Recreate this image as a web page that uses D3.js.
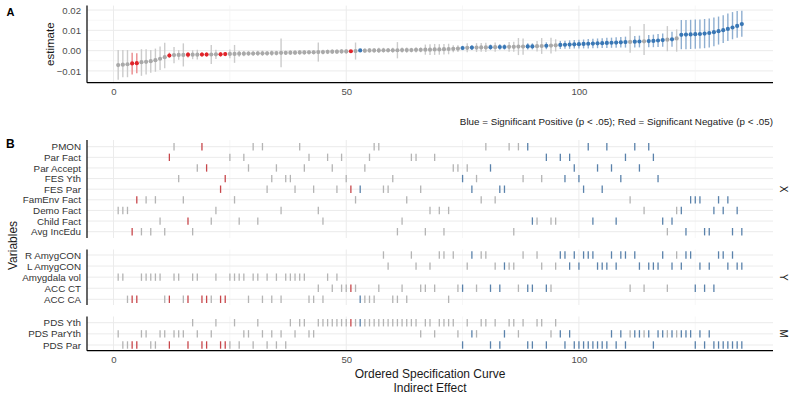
<!DOCTYPE html>
<html>
<head>
<meta charset="utf-8">
<title>Specification Curve</title>
<style>
  body { margin: 0; background: #fff; }
  text { font-family: "Liberation Sans", Arial, sans-serif; }
  .grid { stroke: #ebebeb; stroke-width: 1; }
  .grid-minor { stroke: #f2f2f2; stroke-width: 0.7; }
  .axis-line { stroke: #000; stroke-width: 1.2; }
</style>
</head>
<body>
<div id="chart"></div>
<script src="https://d3js.org/d3.v7.min.js"></script>
<script>
// ---- data: one entry per specification, ordered 1..135 ----
const estimate = [
  -0.0071, -0.0069, -0.0067, -0.0063, -0.0062, -0.0057, -0.0055, -0.0052, -0.0047, -0.0040,
  -0.0032, -0.0024, -0.0022, -0.0021, -0.0021, -0.0020, -0.0020, -0.0020, -0.0019, -0.0019,
  -0.0019, -0.0018, -0.0018, -0.0017, -0.0016, -0.0016, -0.0015, -0.0015, -0.0014, -0.0014,
  -0.0013, -0.0013, -0.0013, -0.0012, -0.0012, -0.0011, -0.0011, -0.0010, -0.0010, -0.0009,
  -0.0009, -0.0008, -0.0008, -0.0007, -0.0007, -0.0006, -0.0005, -0.0005, -0.0004, -0.0004,
  -0.0003, -0.0002, 0.0001, 0.0000, 0.0001, 0.0001, 0.0001, 0.0002, 0.0002, 0.0002,
  0.0002, 0.0003, 0.0003, 0.0003, 0.0004, 0.0004, 0.0005, 0.0005, 0.0006, 0.0006,
  0.0007, 0.0008, 0.0009, 0.0010, 0.0013, 0.0014, 0.0015, 0.0015, 0.0016, 0.0016,
  0.0017, 0.0017, 0.0018, 0.0018, 0.0019, 0.0019, 0.0020, 0.0020, 0.0021, 0.0021,
  0.0022, 0.0023, 0.0024, 0.0025, 0.0026, 0.0028, 0.0029, 0.0030, 0.0031, 0.0032,
  0.0033, 0.0034, 0.0035, 0.0036, 0.0037, 0.0038, 0.0039, 0.0040, 0.0041, 0.0042,
  0.0043, 0.0044, 0.0045, 0.0046, 0.0047, 0.0048, 0.0050, 0.0052, 0.0054, 0.0056,
  0.0060, 0.0078, 0.0079, 0.0080, 0.0081, 0.0082, 0.0084, 0.0087, 0.0091, 0.0096,
  0.0101, 0.0107, 0.0114, 0.0122, 0.0131
];
const ciLow = [
  -0.0144, -0.0131, -0.0131, -0.0118, -0.0112, -0.0124, -0.0118, -0.0109, -0.0104, -0.0095,
  -0.0087, -0.0035, -0.0062, -0.0045, -0.0078, -0.0034, -0.0042, -0.0044, -0.0030, -0.0030,
  -0.0066, -0.0041, -0.0029, -0.0027, -0.0038, -0.0060, -0.0030, -0.0028, -0.0026, -0.0027,
  -0.0025, -0.0026, -0.0024, -0.0025, -0.0023, -0.0082, -0.0022, -0.0021, -0.0022, -0.0020,
  -0.0020, -0.0019, -0.0019, -0.0054, -0.0018, -0.0017, -0.0016, -0.0016, -0.0015, -0.0015,
  -0.0005, -0.0044, 0.0000, -0.0011, -0.0010, -0.0010, -0.0012, -0.0010, -0.0009, -0.0010,
  -0.0038, -0.0009, -0.0010, -0.0008, -0.0009, -0.0008, -0.0020, -0.0022, -0.0021, -0.0020,
  -0.0019, -0.0018, -0.0008, -0.0007, 0.0002, -0.0008, 0.0003, -0.0007, -0.0006, -0.0007,
  0.0004, -0.0006, 0.0004, 0.0005, -0.0005, -0.0006, -0.0022, -0.0020, 0.0006, 0.0006,
  -0.0004, -0.0016, 0.0007, -0.0014, -0.0004, 0.0008, 0.0009, 0.0009, 0.0010, 0.0010,
  0.0011, 0.0011, 0.0012, 0.0012, 0.0013, 0.0013, 0.0014, 0.0014, 0.0015, 0.0015,
  -0.0010, 0.0016, 0.0016, -0.0021, 0.0017, 0.0017, 0.0018, 0.0019, -0.0003, 0.0019,
  -0.0005, 0.0007, 0.0007, 0.0008, 0.0009, 0.0010, 0.0012, 0.0016, 0.0022, 0.0030,
  0.0038, 0.0048, 0.0056, 0.0064, 0.0069
];
const ciHigh = [
  0.0003, 0.0003, 0.0003, -0.0010, -0.0013, 0.0007, 0.0007, 0.0003, 0.0010, 0.0020,
  0.0039, -0.0010, 0.0018, 0.0003, 0.0036, -0.0008, 0.0002, 0.0004, -0.0008, -0.0008,
  0.0028, 0.0005, -0.0007, -0.0007, 0.0006, 0.0028, 0.0000, -0.0002, -0.0002, -0.0001,
  -0.0001, 0.0000, -0.0002, 0.0001, -0.0001, 0.0060, 0.0000, 0.0001, 0.0002, 0.0002,
  0.0002, 0.0003, 0.0003, 0.0040, 0.0004, 0.0005, 0.0006, 0.0006, 0.0007, 0.0007,
  -0.0001, 0.0040, 0.0002, 0.0011, 0.0012, 0.0012, 0.0014, 0.0014, 0.0013, 0.0014,
  0.0042, 0.0015, 0.0016, 0.0014, 0.0017, 0.0016, 0.0030, 0.0032, 0.0033, 0.0032,
  0.0033, 0.0034, 0.0026, 0.0027, 0.0024, 0.0036, 0.0027, 0.0037, 0.0038, 0.0039,
  0.0030, 0.0040, 0.0032, 0.0031, 0.0043, 0.0044, 0.0062, 0.0060, 0.0036, 0.0036,
  0.0048, 0.0062, 0.0041, 0.0064, 0.0056, 0.0048, 0.0049, 0.0051, 0.0052, 0.0054,
  0.0055, 0.0057, 0.0058, 0.0060, 0.0061, 0.0063, 0.0064, 0.0066, 0.0067, 0.0069,
  0.0120, 0.0072, 0.0074, 0.0131, 0.0077, 0.0079, 0.0082, 0.0085, 0.0121, 0.0093,
  0.0105, 0.0151, 0.0151, 0.0152, 0.0153, 0.0154, 0.0156, 0.0159, 0.0163, 0.0168,
  0.0175, 0.0183, 0.0190, 0.0195, 0.0197
];
const negSig = [4, 5, 12, 16, 19, 20, 23, 24, 51];
const posSig = [53, 75, 77, 81, 83, 84, 89, 90, 93, 96, 97, 98, 99, 100, 101, 102, 103, 104, 105,
  106, 107, 108, 109, 110, 112, 113, 115, 116, 117, 118, 120, 122, 123, 124, 125, 126, 127, 128,
  129, 130, 131, 132, 133, 134, 135];

// facet X: predictors and the specifications that use each
const xLabels = ["PMON", "Par Fact", "Par Accept", "FES Yth", "FES Par", "FamEnv Fact", "Demo Fact", "Child Fact", "Avg IncEdu"];
const xSpecs = [
  [13, 19, 30, 32, 40, 56, 57, 80, 85, 87, 89, 102, 106, 112, 115],
  [12, 25, 28, 42, 46, 49, 55, 64, 65, 69, 93, 96, 98, 110, 116],
  [18, 20, 29, 35, 41, 47, 54, 73, 74, 76, 81, 99, 104, 107, 113],
  [14, 24, 34, 37, 38, 50, 60, 75, 78, 88, 92, 97, 100, 109, 117],
  [23, 33, 39, 43, 48, 51, 53, 58, 59, 66, 77, 83, 84, 101, 105],
  [5, 7, 9, 15, 26, 52, 63, 79, 82, 111, 124, 125, 126, 130, 132],
  [1, 2, 3, 22, 36, 44, 68, 70, 72, 114, 121, 122, 129, 131, 134],
  [10, 16, 21, 27, 31, 45, 62, 90, 91, 94, 95, 103, 108, 118, 120],
  [4, 6, 8, 11, 17, 61, 67, 71, 86, 119, 123, 127, 128, 133, 135]
];
// facet Y: outcomes
const yLabels = ["R AmygCON", "L AmygCON", "Amygdala vol", "ACC CT", "ACC CA"];
const ySpecs = [
  [58, 64, 70, 71, 73, 77, 79, 80, 88, 91, 96, 97, 99, 101, 102, 103, 107, 109, 110, 112, 118, 121, 123, 124, 130, 131, 133],
  [59, 65, 68, 76, 82, 84, 85, 86, 92, 95, 98, 100, 104, 105, 106, 108, 113, 115, 116, 117, 120, 122, 126, 128, 132, 134, 135],
  [1, 2, 6, 7, 8, 9, 10, 13, 14, 17, 18, 22, 25, 26, 27, 28, 30, 31, 33, 35, 37, 38, 39, 40, 41, 46, 48],
  [44, 47, 49, 50, 51, 52, 57, 62, 66, 67, 69, 74, 75, 78, 81, 83, 87, 89, 90, 93, 94, 111, 114, 119, 125, 127, 129],
  [3, 4, 5, 11, 12, 15, 16, 19, 20, 21, 23, 24, 29, 32, 34, 36, 42, 43, 45, 53, 54, 55, 56, 60, 61, 63, 72]
];
// facet M: mediators
const mLabels = ["PDS Yth", "PDS ParYth", "PDS Par"];
const mSpecs = [
  [17, 22, 26, 31, 38, 40, 41, 44, 45, 46, 47, 48, 49, 50, 51, 52, 53, 54, 55, 56, 57, 58, 59, 60, 61, 62, 63, 64, 65,
   67, 68, 70, 71, 72, 73, 76, 79, 80, 82, 85, 86, 88, 91, 92, 95],
  [1, 6, 7, 10, 11, 13, 14, 15, 18, 21, 28, 29, 32, 34, 36, 39, 42, 43, 66, 69, 74, 77, 78, 84, 87, 94, 96, 98, 107,
   109, 111, 112, 113, 114, 115, 117, 118, 119, 120, 121, 122, 123, 124, 126, 128],
  [2, 3, 4, 5, 8, 9, 12, 16, 19, 20, 23, 24, 25, 27, 30, 33, 35, 37, 75, 81, 83, 89, 90, 93, 97, 99, 100, 101, 102,
   103, 104, 105, 106, 108, 110, 116, 125, 127, 129, 130, 131, 132, 133, 134, 135]
];
const xTicks = [0, 50, 100];
const yTicks = [-0.01, 0.00, 0.01, 0.02];

// ---- layout ----
const width = 790, height = 394;
const left = 87, right = 773;

const specs = estimate.map((e, i) => ({
  n: i + 1, est: e, lo: ciLow[i], hi: ciHigh[i],
  sig: negSig.includes(i + 1) ? 'neg' : posSig.includes(i + 1) ? 'pos' : 'ns'
}));
const dotColor = { neg: '#e0242a', pos: '#3977b5', ns: '#a9a9a9' };
const barColor = { neg: '#ea8a8c', pos: '#8eaed0', ns: '#cbcbcb' };
const tickColor = { neg: '#c8474b', pos: '#5a82ab', ns: '#b4b4b4' };

const svg = d3.select('#chart').append('svg')
  .attr('width', width)
  .attr('height', height);

const x = d3.scaleLinear().domain([-5.7, 141.7]).range([left, right]);

// ---- panel A ----
const yA = d3.scaleLinear().domain([-0.0158, 0.0222]).range([82.7, 5.6]);
const gA = svg.append('g');

gA.selectAll('.hminor').data([-0.015, -0.005, 0.005, 0.015]).join('line')
  .attr('class', 'grid-minor')
  .attr('x1', left).attr('x2', right)
  .attr('y1', d => yA(d)).attr('y2', d => yA(d));
gA.selectAll('.hmajor').data(yTicks).join('line')
  .attr('class', 'grid')
  .attr('x1', left).attr('x2', right)
  .attr('y1', d => yA(d)).attr('y2', d => yA(d));
gA.selectAll('.vgrid').data([0, 25, 50, 75, 100, 125]).join('line')
  .attr('class', d => d % 50 === 0 ? 'grid' : 'grid-minor')
  .attr('x1', d => x(d)).attr('x2', d => x(d))
  .attr('y1', 5.6).attr('y2', 82.7);

gA.selectAll('.ci').data(specs).join('line')
  .attr('x1', d => x(d.n)).attr('x2', d => x(d.n))
  .attr('y1', d => yA(d.lo)).attr('y2', d => yA(d.hi))
  .attr('stroke', d => barColor[d.sig])
  .attr('stroke-width', 1.4);
gA.selectAll('.pt').data(specs).join('circle')
  .attr('cx', d => x(d.n)).attr('cy', d => yA(d.est))
  .attr('r', 2.1)
  .attr('fill', d => dotColor[d.sig]);

const axA = gA.append('g').attr('transform', `translate(${left},0)`)
  .call(d3.axisLeft(yA).tickValues(yTicks).tickFormat(d3.format('.2f')).tickSize(0).tickPadding(6));
axA.select('.domain').remove();
axA.selectAll('text').attr('font-size', 9.6).attr('fill', '#4d4d4d');

const axAx = gA.append('g').attr('transform', 'translate(0,82.7)')
  .call(d3.axisBottom(x).tickValues(xTicks).tickSize(0).tickPadding(5));
axAx.select('.domain').remove();
axAx.selectAll('text').attr('font-size', 9.6).attr('fill', '#4d4d4d');

gA.append('line').attr('class', 'axis-line')
  .attr('x1', left).attr('x2', left).attr('y1', 5.6).attr('y2', 82.7);
gA.append('line').attr('class', 'axis-line')
  .attr('x1', left).attr('x2', right).attr('y1', 82.7).attr('y2', 82.7);

gA.append('text').text('estimate')
  .attr('transform', `translate(54,${yA(0.0032)}) rotate(-90)`)
  .attr('text-anchor', 'middle').attr('font-size', 11.5).attr('fill', '#1a1a1a');

// ---- panel B ----
const facets = [
  { labels: xLabels, specs: xSpecs, top: 140, bottom: 238, rows: [146.7, 231.7], strip: 'X' },
  { labels: yLabels, specs: ySpecs, top: 249.5, bottom: 305, rows: [255, 299.3], strip: 'Y' },
  { labels: mLabels, specs: mSpecs, top: 316.5, bottom: 350.7, rows: [322.7, 345], strip: 'M' }
];

facets.forEach(f => {
  const g = svg.append('g');
  const yRow = d3.scalePoint().domain(f.labels).range(f.rows);

  g.selectAll('.vgrid').data([0, 25, 50, 75, 100, 125]).join('line')
    .attr('class', d => d % 50 === 0 ? 'grid' : 'grid-minor')
    .attr('x1', d => x(d)).attr('x2', d => x(d))
    .attr('y1', f.top).attr('y2', f.bottom);
  g.selectAll('.hgrid').data(f.labels).join('line')
    .attr('class', 'grid')
    .attr('x1', left).attr('x2', right)
    .attr('y1', d => yRow(d)).attr('y2', d => yRow(d));

  const marks = [];
  f.labels.forEach((lab, i) => f.specs[i].forEach(n => marks.push({ lab, s: specs[n - 1] })));
  g.selectAll('.tick-mark').data(marks).join('line')
    .attr('x1', d => x(d.s.n)).attr('x2', d => x(d.s.n))
    .attr('y1', d => yRow(d.lab) - 3.7).attr('y2', d => yRow(d.lab) + 3.7)
    .attr('stroke', d => tickColor[d.s.sig])
    .attr('stroke-width', 1.3);

  const ax = g.append('g').attr('transform', `translate(${left},0)`)
    .call(d3.axisLeft(yRow).tickSize(0).tickPadding(6));
  ax.select('.domain').remove();
  ax.selectAll('text').attr('font-size', 9.8).attr('fill', '#333');

  g.append('line').attr('class', 'axis-line')
    .attr('x1', left).attr('x2', left).attr('y1', f.top).attr('y2', f.bottom);

  g.append('text').text(f.strip)
    .attr('transform', `translate(780,${(f.top + f.bottom) / 2}) rotate(90)`)
    .attr('text-anchor', 'middle').attr('font-size', 10).attr('fill', '#1a1a1a');
});

const mBottom = facets[2].bottom;
svg.append('line').attr('class', 'axis-line')
  .attr('x1', left).attr('x2', right).attr('y1', mBottom).attr('y2', mBottom);
const axB = svg.append('g').attr('transform', `translate(0,${mBottom})`)
  .call(d3.axisBottom(x).tickValues(xTicks).tickSize(0).tickPadding(5));
axB.select('.domain').remove();
axB.selectAll('text').attr('font-size', 9.6).attr('fill', '#4d4d4d');

svg.append('text').text('Ordered Specification Curve')
  .attr('x', (left + right) / 2).attr('y', 377.5)
  .attr('text-anchor', 'middle').attr('font-size', 12).attr('fill', '#1a1a1a');
svg.append('text').text('Indirect Effect')
  .attr('x', (left + right) / 2).attr('y', 391.5)
  .attr('text-anchor', 'middle').attr('font-size', 12).attr('fill', '#1a1a1a');

svg.append('text').text('Variables')
  .attr('transform', 'translate(16.5,245.5) rotate(-90)')
  .attr('text-anchor', 'middle').attr('font-size', 12).attr('fill', '#1a1a1a');

svg.append('text').text('Blue = Significant Positive (p < .05); Red = Significant Negative (p < .05)')
  .attr('x', right).attr('y', 125)
  .attr('text-anchor', 'end').attr('font-size', 9.8).attr('fill', '#1a1a1a');

svg.append('text').text('A')
  .attr('x', 6.5).attr('y', 15.5)
  .attr('font-family', '"Liberation Serif", "Times New Roman", serif')
  .attr('font-weight', 'bold').attr('font-size', 11).attr('fill', '#000');
svg.append('text').text('B')
  .attr('x', 6).attr('y', 147.5)
  .attr('font-family', '"Liberation Serif", "Times New Roman", serif')
  .attr('font-weight', 'bold').attr('font-size', 12).attr('fill', '#000');
</script>
</body>
</html>
